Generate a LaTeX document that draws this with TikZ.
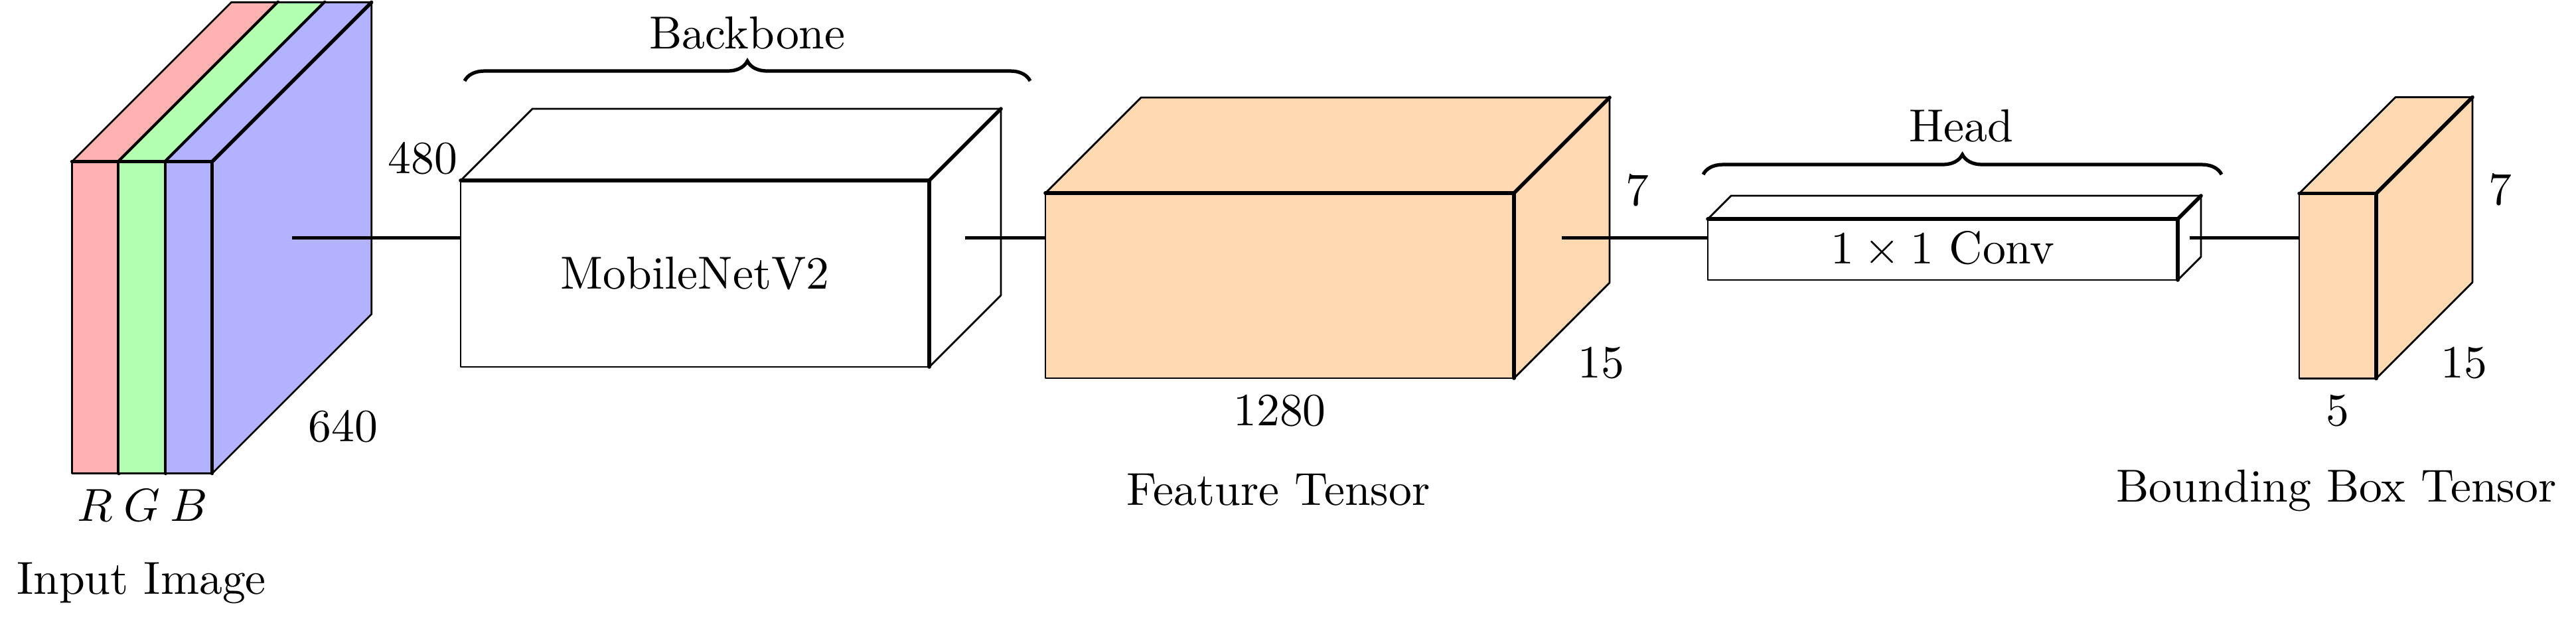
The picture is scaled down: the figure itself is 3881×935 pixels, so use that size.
\documentclass[tikz,border=0pt]{standalone}
\usetikzlibrary{decorations.pathreplacing,calc}
\tikzset{
  thinedge/.style={line width=0.4pt,line join=round},
  thickedge/.style={line width=0.8pt,line cap=round,line join=round},
  conn/.style={line width=0.75pt},
  bracestyle/.style={decorate,decoration={brace,amplitude=4.3pt},line width=0.75pt},
}
\newcommand{\mycuboid}[7]{%
\begin{scope}[shift={(#2,#3)}]
  \fill[#7] (0,0) rectangle (#4,#5);
  \fill[#7] (0,0) -- (#6,-#6) -- ({#4+#6},-#6) -- (#4,0) -- cycle;
  \fill[#7] (#4,0) -- ({#4+#6},-#6) -- ({#4+#6},{#5-#6}) -- (#4,#5) -- cycle;
  \draw[thinedge] (0,0) rectangle (#4,#5);
  \draw[thinedge] (0,0) -- (#6,-#6) -- ({#4+#6},-#6) -- ({#4+#6},{#5-#6}) -- (#4,#5);
  \draw[thickedge] (0,0) -- (#4,0) -- (#4,#5);
  \draw[thickedge] (#4,0) -- ({#4+#6},-#6);
  \coordinate (#1-in) at (0,{#5/2-#6/2});
  \coordinate (#1-out) at ({#4+#6/2},{#5/2-#6/2});
  \coordinate (#1-fb) at ({#4/2},#5);
  \coordinate (#1-fc) at ({#4/2},{#5/2});
  \coordinate (#1-bm) at ({#4+#6},{#5/2-#6});
  \coordinate (#1-dm) at ({#4+#6/2},{#5-#6/2});
\end{scope}}
\begin{document}
\begin{tikzpicture}[x=0.14347pt,y=-0.14347pt]
\useasboundingbox (0,0) rectangle (3881,935);
% input image
\mycuboid{r}{108.5}{243.5}{70.4}{470}{240}{red!30}
\mycuboid{g}{178.9}{243.5}{70.4}{470}{240}{green!30}
\mycuboid{b}{249.3}{243.5}{70.4}{470}{240}{blue!30}
% backbone
\mycuboid{mb}{694}{272}{706}{281}{108}{white}
% feature tensor
\mycuboid{ft}{1575}{291}{706}{279}{144}{orange!30}
% head conv
\mycuboid{cv}{2573}{330}{708}{92}{35}{white}
% bounding box tensor
\mycuboid{bb}{3464}{291.5}{116}{279}{145}{orange!30}
% connectors
\draw[conn] (b-out) -- (mb-in);
\draw[conn] (mb-out) -- (ft-in);
\draw[conn] (ft-out) -- (cv-in);
\draw[conn] (cv-out) -- (bb-in);
% braces
\coordinate (bkl) at (700,122);
\coordinate (bkr) at (1552,122);
\draw[bracestyle] (bkl) -- (bkr);
\coordinate (hdl) at (2566,263);
\coordinate (hdr) at (3347,263);
\draw[bracestyle] (hdl) -- (hdr);
% labels
\node[right] (l480) at (b-bm) {480};
\node[anchor=north west] (l640) at (b-dm) {640};
\node[below] (lr) at (r-fb) {$R$};
\node[below] (lg) at (g-fb) {$G$};
\node[below] (lb) at (b-fb) {$B$};
\node (inimg) at (213,879) {Input Image};
\node (backbone) at (1126,50) {Backbone};
\node (mbtxt) at (mb-fc) {MobileNetV2};
\node[right] (l7a) at (ft-bm) {7};
\node[anchor=north west] (l15a) at (ft-dm) {15};
\node[below] (l1280) at (ft-fb) {1280};
\node (fttxt) at (1926,738) {Feature Tensor};
\node (headtxt) at (2955,190) {Head};
\node (cvtxt) at (cv-fc) {$1\times 1$ Conv};
\node[right] (l7b) at (bb-bm) {7};
\node[anchor=north west] (l15b) at (bb-dm) {15};
\node[below] (l5) at (bb-fb) {5};
\node (bbtxt) at (3520,739) {Bounding Box Tensor};
\end{tikzpicture}
\end{document}
